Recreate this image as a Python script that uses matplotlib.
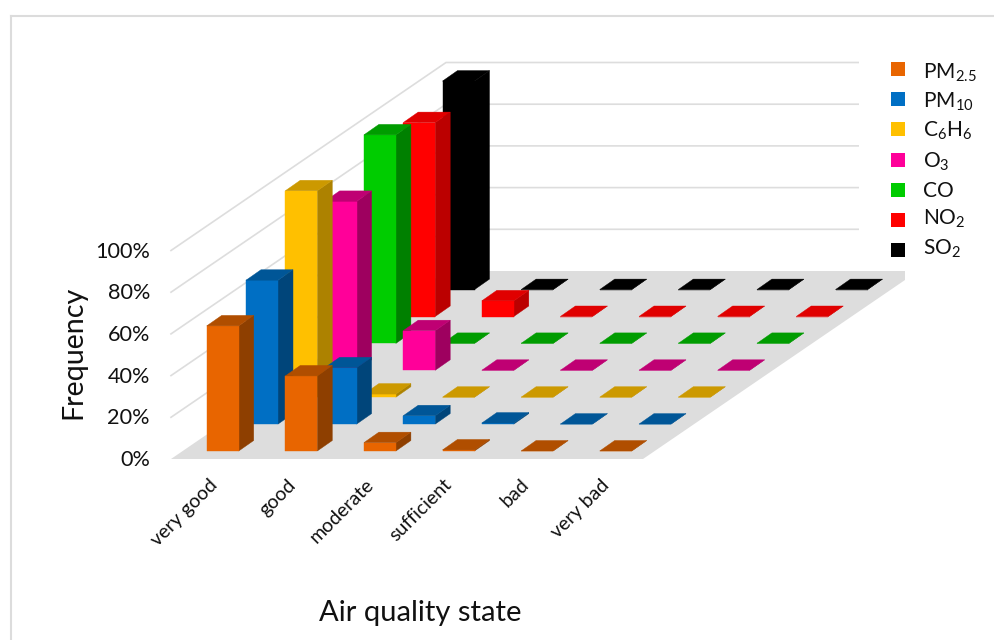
import matplotlib
matplotlib.use('Agg')
import matplotlib.pyplot as plt
from matplotlib.patches import Polygon, Rectangle

plt.rcParams['font.family'] = 'Lato'
plt.rcParams['mathtext.default'] = 'regular'

# ─── DATA ───────────────────────────────────────────
categories = ['very good', 'good', 'moderate', 'sufficient', 'bad', 'very bad']
pollutants = ['PM$_{2.5}$', 'PM$_{10}$', 'C$_{6}$H$_{6}$', 'O$_{3}$', 'CO', 'NO$_{2}$', 'SO$_{2}$']
y_ticks = [0, 20, 40, 60, 80, 100]

pm25 = [60, 36, 4, 0.5, 0, 0]
pm10 = [69, 27, 4, 0.5, 0, 0]
c6h6 = [99, 1.5, 0, 0, 0, 0]
o3 = [81, 19, 0, 0, 0, 0]
co = [100, 0, 0, 0, 0, 0]
no2 = [93, 7.5, 0, 0, 0, 0]
so2 = [100, 0, 0, 0, 0, 0]
series = [pm25, pm10, c6h6, o3, co, no2, so2]

# front, side, top
shades = [
    ('#E86500', '#8E3F00', '#B04E00'),
    ('#006FC4', '#00457A', '#005697'),
    ('#FFC000', '#AD8200', '#CC9900'),
    ('#FF0099', '#9E005F', '#BF0073'),
    ('#00CC00', '#008000', '#009C00'),
    ('#FF0000', '#BB0000', '#E00000'),
    ('#000000', '#000000', '#000000'),
]

# ─── PROJECTION (image pixels) ──────────────────────
X0, Y0 = 206.7, 451.0
CAT_DX = 78.6
SER_DX, SER_DY = 39.3, -26.9
BAR_W, BAR_DX, BAR_DY = 32.0, 15.0, -10.5
PX_PER_PCT = 2.085
GRID = '#DDDDDD'
TEXT = '#111111'


def bar_base(c, s):
    return X0 + c * CAT_DX + s * SER_DX, Y0 + s * SER_DY


fig = plt.figure(figsize=(9.95, 6.40), dpi=100, facecolor='white')
ax = fig.add_axes([0, 0, 1, 1])
ax.set_xlim(0, 995)
ax.set_ylim(640, 0)
ax.axis('off')

# Outer frame
ax.plot([11, 11], [640, 16], color='#DCDCDC', lw=1.5, zorder=1)
ax.plot([11, 995], [16, 16], color='#DCDCDC', lw=1.5, zorder=1)

# Walls
for t in y_ticks[1:]:
    h = t * PX_PER_PCT
    ax.plot([171, 446, 905], [459 - h, 271 - h, 271 - h], color=GRID, lw=1.2, zorder=1)

# Floor
ax.add_patch(Polygon([(171, 459), (643, 459), (905, 280), (905, 271), (446, 271)],
                     closed=True, fc=GRID, ec='none', zorder=2))

# Bars, back row first
z = 3
for s in range(len(series) - 1, -1, -1):
    front, side, top = shades[s]
    for c, val in enumerate(series[s]):
        x, y = bar_base(c, s)
        h = val * PX_PER_PCT
        ax.add_patch(Polygon([(x + BAR_W, y), (x + BAR_W + BAR_DX, y + BAR_DY),
                              (x + BAR_W + BAR_DX, y + BAR_DY - h), (x + BAR_W, y - h)],
                             closed=True, fc=side, ec=side, lw=0.3, zorder=z))
        ax.add_patch(Rectangle((x, y - h), BAR_W, h, fc=front, ec=front, lw=0.3, zorder=z))
        ax.add_patch(Polygon([(x, y - h), (x + BAR_W, y - h),
                              (x + BAR_W + BAR_DX, y + BAR_DY - h), (x + BAR_DX, y + BAR_DY - h)],
                             closed=True, fc=top, ec=top, lw=0.3, zorder=z))
    z += 1

# Legend box hides the wall lines on the right
ax.add_patch(Rectangle((859, 20), 136, 250.5, fc='white', ec='none', zorder=z))
legend_base = [79, 108, 137, 168, 197, 225, 255]
for i, name in enumerate(pollutants):
    yc = 69 + i * 30.2
    ax.add_patch(Rectangle((891, yc - 7), 14, 14, fc=shades[i][0], ec='none', zorder=z + 1))
    ax.text(923, legend_base[i], name, fontsize=15, color=TEXT, ha='left', va='baseline', zorder=z + 1)

# Axis text
for t in y_ticks:
    ax.text(150, 460 - t * PX_PER_PCT, f'{t}%', fontsize=15.6, color=TEXT, ha='right', va='center')

label_x = [209, 287, 365, 443, 520, 600]
for name, lx in zip(categories, label_x):
    ax.text(lx, 476, name, fontsize=14, color=TEXT, rotation=45, rotation_mode='anchor',
            ha='right', va='top')

ax.text(73, 352, 'Frequency', fontsize=20.6, color=TEXT, rotation=90, ha='center', va='center')
ax.text(420, 613, 'Air quality state', fontsize=21, color=TEXT, ha='center', va='center')

plt.savefig('out.png', dpi=100, facecolor='white')
plt.close()
